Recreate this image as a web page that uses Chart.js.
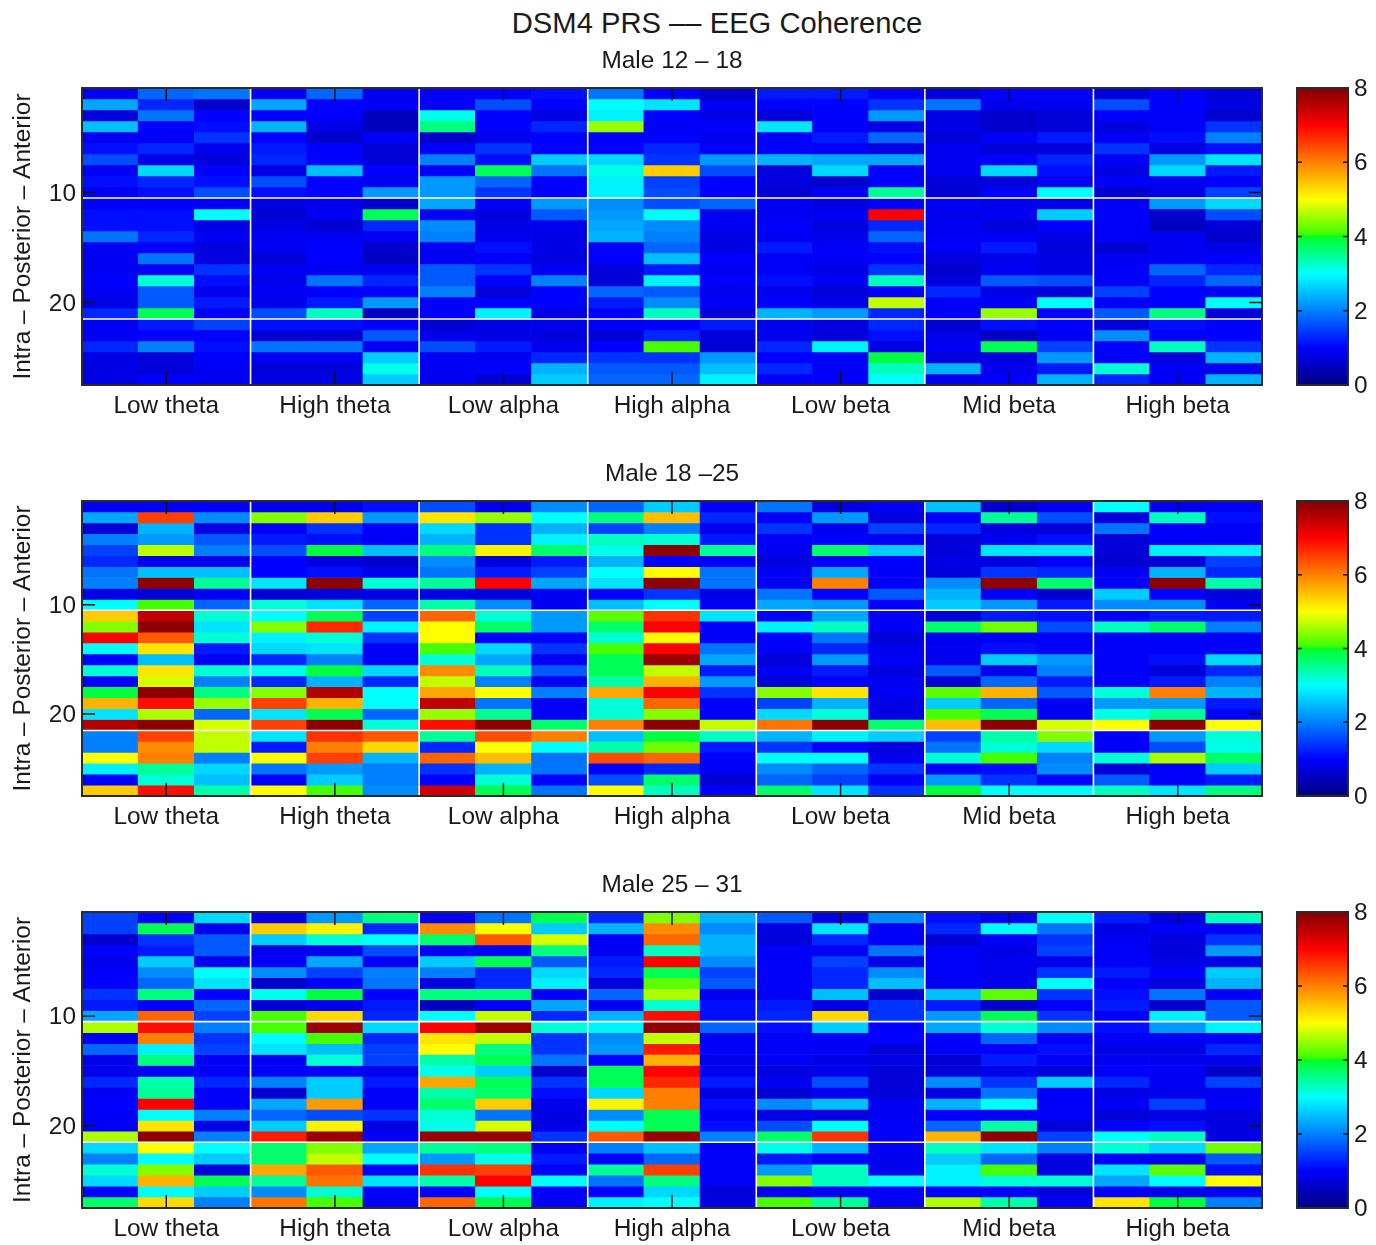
<!DOCTYPE html>
<html>
<head>
<meta charset="utf-8">
<title>DSM4 PRS EEG Coherence</title>
<script src="https://cdn.jsdelivr.net/npm/chart.js@4"></script>
<style>
    html, body { margin: 0; padding: 0; background: #fff; overflow: hidden; }
    body { width: 1376px; height: 1245px; position: relative; }
    canvas { position: absolute; }
    #mainTitle {
        position: absolute; top: 5px; left: 417px; width: 600px; height: 36px; line-height: 36px;
        text-align: center; font: 29.2px/36px "Liberation Sans", sans-serif; color: #1a1a1a; white-space: nowrap;
    }
</style>
</head>
<body>
<div id="mainTitle">DSM4 PRS –– EEG Coherence</div>
<script>
const bandNames = ['Low theta', 'High theta', 'Low alpha', 'High alpha', 'Low beta', 'Mid beta', 'High beta'];
const rowTicks = [10, 20];
const barTicks = [0, 2, 4, 6, 8];
const bandEdges = [2.5, 5.5, 8.5, 11.5, 14.5, 17.5];
const rowEdges = [10.5, 21.5];
const bandCentres = [1, 4, 7, 10, 13, 16, 19];
const panelTitles = ['Male 12 – 18', 'Male 18 –25', 'Male 25 – 31'];

// one inner array per column, 27 values top to bottom
const male12to18 = [
    [.9,2.3,.7,2.5,.9,1.1,1.6,.9,1.1,.9,1,1.1,1.1,1.9,.9,.9,.9,1,.9,.8,1.3,.9,.9,1.3,.8,.8,.8],
    [1.8,1.3,1.9,1,.95,1.3,.8,2.7,1.3,1.1,1,1.1,1.1,1.3,1,1.9,.9,3.2,1.7,1.7,3.8,1.2,1,2,.7,.7,1],
    [1.9,.6,1,1.1,1.4,.85,.75,1,1.1,1.6,.95,3,.8,.9,.75,.75,1.4,1.1,.85,1.2,1,1.5,1,1.1,1,.9,.9],
    [.9,2.3,1,2.4,1,1.2,1.3,.8,1.6,1.1,.8,.65,.8,.9,.9,.7,.9,.85,.9,.85,1.6,1.1,.65,1.9,.9,.7,.8],
    [1.8,1,1,.8,.6,1,1,2.5,1,1,.85,.9,.65,.9,1,1,.9,1.9,1,1.2,3.3,1.1,.65,1.9,.9,.7,.8],
    [.85,.95,.5,.5,1,.7,.7,1,.9,2.2,.6,3.8,1.3,.9,.6,.55,.9,1.3,1,2.2,.5,1,1.7,.9,2.6,3.1,2.6],
    [1,.95,3.1,3.6,.6,.95,2,.95,2.2,2.2,2.3,.95,2.1,2,.9,.9,1.7,1.7,2,1,1,.65,.85,1.6,.9,.9,.9],
    [1,1.6,1,1,.85,1.4,1.1,3.8,1.8,1.4,.95,.75,.8,.85,1.1,.95,1.4,1,.7,1,2.9,.8,.8,1.2,.9,1,.65],
    [1.1,1,.8,1.3,1,1,2.6,1.9,1,1,2.2,1.7,.85,.8,.8,.75,.9,2,1,1,.8,.85,.75,.85,1.3,2.4,2.6],
    [1.9,3,2.9,4.5,1,1,2.7,3.1,2.9,2.9,2.1,2.2,2.3,2.4,1,1,.7,.7,1.8,1.2,1,.95,.7,1,1.4,1.7,1.8],
    [1,2.8,1,.95,1,1.3,1.4,5.4,1.5,1.6,1.6,3,2.1,2,1.8,2.5,1.2,2.9,1.7,2.1,3.3,1,1.3,4.1,1.4,1.7,1.8],
    [.6,.9,.8,1,.85,1,2.2,1.6,1,1,1.8,.9,.9,.8,.8,1,.85,1,.85,.95,.7,1.2,.7,.7,2.2,2.5,2.9],
    [1.2,1,.7,2.8,1,1,2.4,.75,.75,.65,.9,.9,1,.9,1.2,.95,.95,1.1,.85,1,2.4,.85,.85,1.3,1,1.3,.95],
    [1.2,1,1,.95,1.2,.95,2.3,2.7,.6,.95,.8,.9,.75,.85,.95,.95,.8,.9,.7,.85,2.2,.75,.7,2.9,.95,.95,1],
    [1,1.4,2.2,.8,1.8,.75,2.3,1,1,3.5,1,7,1.3,1.8,1.1,1,1.4,3.3,1,4.7,1.3,1.3,1.1,.8,3.9,3.3,3],
    [.7,1.9,.8,.8,.7,.9,.9,.9,.7,.65,.9,.85,.9,.95,.95,.75,.6,.75,1.3,.95,.95,.65,.85,.9,.7,2.4,.85],
    [1,.85,.6,.6,.95,.7,1,2.7,.7,1,.85,.9,.7,.95,1.2,.85,.9,1.7,.8,.95,4.5,1.1,.55,3.8,.75,.85,1],
    [1,.85,.7,.7,1.2,.7,1.3,1.1,.9,3,.8,2.6,1,.8,.7,.8,.8,1.6,.7,3,1,1,.9,1.5,2.2,1.2,2.4],
    [.7,1.6,1,.75,.95,1.4,.95,.8,.95,.6,.95,.95,.95,.95,.65,.9,.95,.95,1.5,.95,1.7,.7,2.1,1,.95,3.2,1.3],
    [1,1,.95,.95,1.1,.8,2.2,2.7,.9,.8,2.2,.6,.5,.9,.9,.9,1.8,1.3,1,1,3.6,1.1,1,3.3,.75,.95,.95],
    [.7,.8,.6,1.4,2,1.1,2.8,1.2,.95,1.5,2.7,1.6,.7,.6,.8,1,1.3,1.8,.9,3,.7,1,1,1.4,2.4,.85,2.4]
];
const male18to25 = [
    [.9,2.3,.7,2,1.5,1.3,1.9,2,.8,3,5.4,4.4,7,3,1,3.2,1,3.9,5.6,2.8,7.6,2,2,5,2.9,1,5.4],
    [.9,6.5,2.4,2.2,4.7,.85,2.5,7.9,.7,4.1,7.5,7.9,6.3,5.2,2.5,5.2,4.8,7.9,6.9,4.6,7.9,6.5,5.9,6,3.5,3.2,6.9],
    [.95,2.1,.8,1.7,2,.85,2.5,3.5,.9,1.8,3.2,2.8,3.2,1.2,.9,3.2,2,3.6,4.5,1.8,4.8,4.7,4.7,2,2.7,2.5,3.4],
    [.85,4.4,.95,1.2,1.6,1,1,2.8,.65,3.2,3,4.4,2.9,2.7,1.3,3.1,1.3,4.4,6.5,2.8,6.5,2.8,1.2,5,1.9,.95,5],
    [.85,5.4,1.4,1.1,3.9,.75,1.1,7.9,.7,2.8,3.8,6.7,3.2,2.8,2,3.9,2.4,7.6,5.6,3.8,7.9,6.6,6,6.5,2.2,2.6,4.1],
    [1.1,2.2,.95,.95,2.5,.6,.85,3.2,.8,1.8,1.5,2.9,1.4,.95,.95,2.7,1.3,3,3,1.8,3.2,6.3,5.3,2.4,2,2,2.1],
    [1.6,5.2,2.7,2.4,3.6,2.1,1.9,3.5,.8,3.4,6.2,5,5,4.1,3.2,5.9,4.7,5.7,7.5,4.5,6.9,3.5,1.3,6.2,1.4,1,7.4],
    [.85,4.5,1.4,1.4,5.1,.7,1.2,7,.7,2.1,3.2,3.7,1,2.7,2.3,3.3,2,5,1.9,3.5,7.9,6.4,5,5.5,2.4,3.2,3.8],
    [2.1,3,2.4,2.9,3.7,1.2,1.5,2.3,.9,.9,2.2,2.2,1,1.4,.9,1.7,.9,2,.95,.95,3.7,6,3,1.9,1.9,1,1.9],
    [1.8,3.6,1.5,3.3,3.1,2.4,3,2.8,1,2.5,4.2,3.7,3.2,4.1,3.8,3.8,3.4,5.7,3.2,3.2,6,2.5,3.4,6.4,1,1.6,5],
    [2.6,5.5,2,3.2,7.9,1,5,7.9,1.4,3,6.6,7,5,7,7.8,4.7,5.6,7,6.2,4.4,7.9,3.9,4.3,6.2,1.3,3.7,3.3],
    [.95,1.3,.9,1.2,3.5,.95,1.9,1.9,.8,.95,2.8,.95,.95,1.9,2.3,1.2,2.2,1.4,.95,.95,4.7,3.3,1.2,.95,.95,.65,.95],
    [1.9,.95,1.4,.95,.9,.75,.9,.9,1.9,2.3,.95,2.9,1,.95,.7,.9,.7,4.4,1.5,2.7,6.1,2.4,1.4,3,2.1,1.8,3.7],
    [.75,2.2,.85,1,3.7,1,2.3,6,1,2.2,2.3,3.3,1.9,1.3,2.2,1.2,1,5.2,2.4,3.2,7.9,2.9,1,3,1.8,1.5,2.8],
    [.9,.75,1.5,.9,2.6,1,.95,.95,1.7,.95,.95,.95,.7,.85,.95,.75,.9,.95,.8,.8,3.7,2.6,.75,.85,1.4,.95,1.4],
    [2.5,.95,1.3,.7,.75,.8,.75,2.1,2.4,2.6,.7,3.7,.85,.9,.85,1.7,.65,4.2,2.6,4.1,5.5,1.5,1.9,3.2,.95,2.2,3.9],
    [.6,3.5,.75,.9,2.8,.75,1.4,7.9,.95,2.2,1.2,4.3,.95,1.1,2.6,.85,1.8,5.6,1.8,3.8,7.9,3.4,3.2,4.1,1.1,1.4,3],
    [.85,1.6,.7,1.1,2.8,1,1.3,3.7,.6,1.2,1.1,1.6,.95,.95,2.2,2,1.2,1.7,.9,.9,4.8,4.4,2.7,2,2.1,1,3],
    [3,.75,1.9,.7,.7,.65,.9,.95,2.6,2.1,.95,3.3,.95,.95,.95,.95,.95,3.2,2.2,3.1,5,.95,.95,3.2,.7,1.7,3.3],
    [.85,3.3,.95,.95,2.9,.7,2.4,7.9,1,2.1,1.2,3.7,.95,.95,1.1,.7,1.2,6,2.2,3.5,7.9,2.2,1.6,4.6,.95,.95,2.8],
    [.95,1.1,.95,.95,2.9,1.5,1.3,3.4,.7,.9,1.2,2,.95,.95,2.7,1.3,2,2.4,1.2,1,5,3.2,3.1,3.7,2.6,1.2,3.6]
];
const male25to31 = [
    [1.5,1.5,.6,1,.85,1,1,1.4,1.2,2.3,4.6,.95,1.8,.85,.85,1.3,.95,1,.95,.95,4.6,2.7,2,3.2,2.7,1,3.7],
    [.95,3.8,1.4,1.2,2.6,2.1,1.8,3.6,.95,6.2,6.9,6,2.9,3.6,.95,3.4,3.5,7,3,5.2,7.9,5,3,4.4,5.6,3,5.3],
    [2.7,.85,1.7,1.7,.85,3,2.8,1,1.8,1.5,2,1.4,1.5,.95,.95,1.3,.95,.95,2,.8,2,3,2.6,.7,3.8,2.6,2],
    [.8,5.4,2.6,.85,.95,2.1,.6,3.1,.7,4.1,4.1,3,2.8,.9,.95,2,.65,2.3,1.8,2.6,6.8,3.7,3.7,5.7,3.5,2.1,6.1],
    [2.2,5.1,3.2,.85,2.3,1.5,1,3.9,.85,5.3,7.8,4.1,2.5,3.2,.95,2.6,2.6,5.8,1.6,5.1,7.8,4.4,4.7,6.3,6.1,3.2,4.1],
    [3.6,1.3,3,1.6,.9,2,1.9,1,1.2,1.3,2.7,1.3,1.5,1.5,.85,1.2,.95,.95,1.4,.8,.95,2.3,3,.95,2.8,.95,.95],
    [.85,5.9,3.7,.9,2.6,2,.75,3.6,.5,3,7,5.2,5,3.4,3.1,5.7,3.4,3.7,3.2,3.1,7.8,3.5,2.2,6.6,3.4,1,6.2],
    [1.9,5,6.3,.9,3.8,1.3,1.3,3.6,.95,4.7,7.8,4.7,3.6,3.8,2.6,3.8,3.7,5.4,1.9,4.8,7.8,3.6,3.1,6.5,7,3,3.8],
    [3.8,2.6,4.8,3.6,1.7,2.7,2.9,.95,2.3,1.3,3.2,1.4,1.4,1.9,.6,1.4,1.1,.85,.8,.8,1.4,.95,1.2,.95,3,.95,.95],
    [1.3,2.4,.95,.9,1.2,1.3,.75,1.8,.9,2.4,2.9,2.1,2.2,1,3.8,3.8,2.7,5.1,2.1,3,6.3,2,1,3.5,1.9,1,2.9],
    [4.4,5.9,6.2,3.3,7,3.8,4.2,4.6,3.2,6.9,7.9,4.7,6.8,5.6,7,6.7,6,6,3.8,3.8,7.8,2.5,1.8,6.5,3.6,2.7,3],
    [2.4,2.1,2.4,2.4,2.1,1.5,1.7,.9,1.1,1.1,1.8,.95,.95,.85,.85,1.2,.8,1.1,.95,1.1,2,.95,.95,.95,.95,.7,.75],
    [1.7,.8,.7,.95,.95,.95,.95,.95,1.2,1.3,1.1,.95,.95,.95,.75,.9,.65,2.1,.8,1.6,3.7,3.1,1.2,2.2,4.4,.95,4.1],
    [.8,2.8,1.3,.9,1.5,1.3,1.3,2.5,.8,5.3,2.6,.95,.95,.8,.85,1.6,.9,2.5,.75,3,6.6,2.4,1,3.3,3.3,.95,3.5],
    [2.1,.95,.95,1.9,.8,2.1,2.5,.6,1.4,1.4,1,1,.7,.8,.7,.7,.7,.9,.9,.95,.95,.95,.85,.85,3,.95,.95],
    [1.1,1.3,.65,.95,.95,.95,.9,2.5,1.2,2.2,2.3,1,.95,.65,.7,2.1,.8,2.4,1,1.8,5.6,3.3,2.6,2.9,2.9,1,4.6],
    [.85,3,.95,.8,.85,.85,.85,4.2,.6,3.8,3.2,1.8,1,1.2,.85,1.4,1.9,3,.95,3.4,7.9,2.8,1.8,4.1,3.2,1,3.4],
    [3,1.9,1.4,1.5,.85,1.4,3,1.4,.95,1.4,2.1,.95,1.1,.95,.7,2.6,.95,.95,.95,.7,1.5,2,.8,.75,3.2,.75,.95],
    [1.2,.8,.9,.95,.95,1.2,.95,1.1,1.2,.95,1.1,.95,.8,.9,.95,1.3,.8,.95,.7,.95,3,3.2,.95,2.8,2.3,.95,5.2],
    [.7,.95,.75,.7,.8,1,.75,1.9,.6,2.9,2.2,.95,.8,.85,.95,.9,.85,1.5,.8,1.1,3.3,2.7,.9,4.2,3,.85,3.9],
    [3.3,.95,1.4,2.2,.8,2.6,2.4,.95,1.7,1.7,2.9,.95,1.3,.85,.55,1.5,.9,.95,.75,.75,.8,4.3,1.7,1.1,5,.9,2]
];

const colourStops = [
    [0, [0, 0, 127]],
    [1, [0, 0, 255]],
    [3, [0, 255, 255]],
    [4, [0, 255, 40]],
    [4.05, [60, 255, 0]],
    [5, [255, 255, 0]],
    [7, [255, 0, 0]],
    [8, [127, 0, 0]]
];

function valueColour(v) {
    for (let i = 1; i < colourStops.length; i++) {
        if (v <= colourStops[i][0]) {
            const a = colourStops[i - 1], b = colourStops[i];
            const t = (v - a[0]) / (b[0] - a[0]);
            return 'rgb(' + a[1].map((c, k) => Math.round(c + (b[1][k] - c) * t)).join(',') + ')';
        }
    }
    return 'rgb(127,0,0)';
}

const labelFont = { family: '"Liberation Sans", sans-serif', size: 24.4 };
const textColour = '#1a1a1a';

// white band lines, inward ticks and the frame
const framePlugin = {
    id: 'frame',
    afterDraw(chart, args, opts) {
        const ctx = chart.ctx, area = chart.chartArea, xs = chart.scales.x, ys = chart.scales.y;
        ctx.save();
        ctx.strokeStyle = '#fff';
        ctx.lineWidth = 1.6;
        ctx.beginPath();
        (opts.xEdges || []).forEach(v => {
            const p = xs.getPixelForValue(v);
            ctx.moveTo(p, area.top);
            ctx.lineTo(p, area.bottom);
        });
        (opts.yEdges || []).forEach(v => {
            const p = ys.getPixelForValue(v);
            ctx.moveTo(area.left, p);
            ctx.lineTo(area.right, p);
        });
        ctx.stroke();
        ctx.strokeStyle = '#111';
        ctx.lineWidth = 1.4;
        ctx.beginPath();
        (opts.xTicks || []).forEach(v => {
            const p = xs.getPixelForValue(v);
            ctx.moveTo(p, area.top);
            ctx.lineTo(p, area.top + opts.tickLength);
            ctx.moveTo(p, area.bottom);
            ctx.lineTo(p, area.bottom - opts.tickLength);
        });
        (opts.yTicks || []).forEach(v => {
            const p = ys.getPixelForValue(v);
            ctx.moveTo(area.left, p);
            ctx.lineTo(area.left + opts.tickLength, p);
            ctx.moveTo(area.right, p);
            ctx.lineTo(area.right - opts.tickLength, p);
        });
        ctx.stroke();
        ctx.strokeStyle = '#2a2a2a';
        ctx.lineWidth = 2;
        ctx.strokeRect(area.left, area.top, area.right - area.left, area.bottom - area.top);
        ctx.restore();
    }
};

function makeCanvas(left, top, width, height) {
    const c = document.createElement('canvas');
    c.width = width;
    c.height = height;
    c.style.left = left + 'px';
    c.style.top = top + 'px';
    c.style.width = width + 'px';
    c.style.height = height + 'px';
    document.body.appendChild(c);
    return c;
}

function drawPanel(values, title, top, height) {
    const labels = [];
    bandNames.forEach(name => labels.push('', name, ''));
    const datasets = values[0].map((first, row) => ({
        data: values.map(() => [row + 0.5, row + 1.5]),
        backgroundColor: values.map(col => valueColour(col[row])),
        borderWidth: 0,
        grouped: false,
        barPercentage: 1,
        categoryPercentage: 1
    }));
    new Chart(makeCanvas(0, top - 46, 1290, height + 86), {
        type: 'bar',
        data: { labels: labels, datasets: datasets },
        plugins: [framePlugin],
        options: {
            responsive: false,
            animation: false,
            layout: { padding: { left: 0, right: 28, top: 0, bottom: 0 } },
            plugins: {
                legend: { display: false },
                tooltip: { enabled: false },
                title: {
                    display: true,
                    text: title,
                    fullSize: false,
                    color: textColour,
                    font: { family: labelFont.family, size: 24.4, weight: 'normal', lineHeight: '30px' },
                    padding: { top: 4, bottom: 12 }
                },
                frame: { xEdges: bandEdges, yEdges: rowEdges, xTicks: bandCentres, yTicks: rowTicks, tickLength: 13 }
            },
            scales: {
                x: {
                    grid: { display: false, drawTicks: false },
                    border: { display: false },
                    ticks: { autoSkip: false, maxRotation: 0, padding: 7, color: textColour, font: labelFont },
                    afterFit: s => { s.height = 40; }
                },
                y: {
                    min: 0.5,
                    max: 27.5,
                    reverse: true,
                    grid: { display: false, drawTicks: false },
                    border: { display: false },
                    afterBuildTicks: s => { s.ticks = rowTicks.map(v => ({ value: v })); },
                    ticks: { padding: 6, labelOffset: 1.5, color: textColour, font: labelFont },
                    title: {
                        display: true,
                        text: 'Intra – Posterior – Anterior',
                        color: textColour,
                        font: labelFont,
                        padding: { top: 9, bottom: 0 }
                    },
                    afterFit: s => { s.width = 82; }
                }
            }
        }
    });
}

function drawColourBar(top, height) {
    new Chart(makeCanvas(1290, top - 22, 86, height + 44), {
        type: 'bar',
        data: {
            labels: [''],
            datasets: [{
                data: [[0, 8]],
                borderWidth: 0,
                barPercentage: 1,
                categoryPercentage: 1,
                backgroundColor: c => {
                    const area = c.chart.chartArea;
                    if (!area) return '#00f';
                    const g = c.chart.ctx.createLinearGradient(0, area.bottom, 0, area.top);
                    colourStops.forEach(s => g.addColorStop(s[0] / 8, valueColour(s[0])));
                    return g;
                }
            }]
        },
        plugins: [framePlugin],
        options: {
            responsive: false,
            animation: false,
            layout: { padding: { left: 7, right: 0, top: 22, bottom: 22 } },
            plugins: {
                legend: { display: false },
                tooltip: { enabled: false },
                frame: { yTicks: barTicks, tickLength: 5 }
            },
            scales: {
                x: { display: false },
                y: {
                    position: 'right',
                    min: 0,
                    max: 8,
                    grid: { display: false, drawTicks: false },
                    border: { display: false },
                    afterBuildTicks: s => { s.ticks = barTicks.map(v => ({ value: v })); },
                    ticks: { padding: 6, labelOffset: 1.5, color: textColour, font: labelFont },
                    afterFit: s => { s.width = 28; }
                }
            }
        }
    });
}

drawPanel(male12to18, panelTitles[0], 88, 297);
drawPanel(male18to25, panelTitles[1], 501, 295);
drawPanel(male25to31, panelTitles[2], 912, 296);
drawColourBar(88, 297);
drawColourBar(501, 295);
drawColourBar(912, 296);
</script>
</body>
</html>
